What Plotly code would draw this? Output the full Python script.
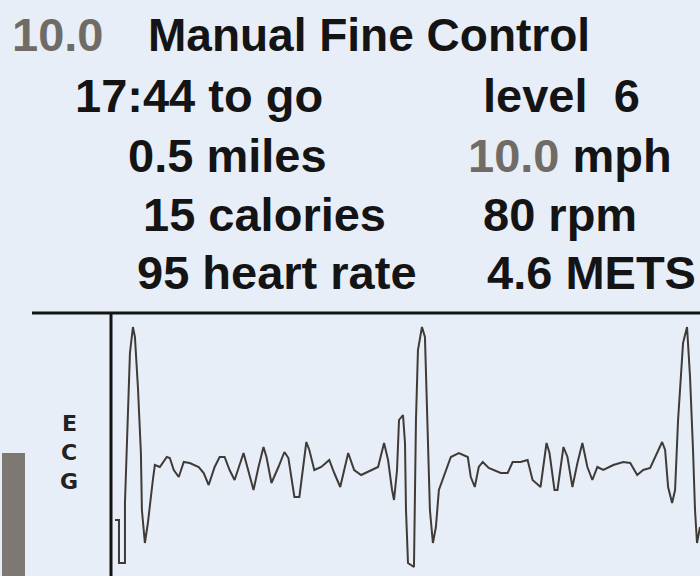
import plotly.graph_objects as go

# ECG trace: sample index and amplitude (mV)
ecg_sample = [3, 7, 7, 13, 13, 16, 18, 21, 23, 26, 29, 30, 33, 36, 38, 41, 43, 48, 55, 58,
              62, 67, 72, 78, 87, 92, 97, 103, 108, 113, 118, 123, 132, 137, 142, 147, 152, 155, 160, 167,
              173, 177, 183, 188, 191, 195, 198, 203, 210, 218, 223, 229, 237, 243, 250, 257, 267, 273, 277, 281,
              283, 286, 288, 292, 294, 295, 297, 303, 304, 305, 307, 311, 314, 317, 319, 322, 325, 328, 333, 340,
              348, 357, 360, 364, 368, 372, 378, 390, 397, 402, 410, 417, 422, 430, 436, 439, 444, 447, 453, 457,
              462, 467, 472, 477, 482, 487, 493, 503, 513, 520, 527, 533, 540, 547, 552, 555, 558, 562, 565, 568,
              573, 577, 580, 583, 585, 587, 590]
ecg_mv = [-0.60, -0.60, -1.03, -1.03, -0.43, 0.42, 1.07, 1.33, 1.23, 0.73, 0.07, -0.50, -0.83, -0.63, -0.43, -0.20, -0.05, -0.07, 0.03, 0.02,
          -0.10, -0.17, -0.02, -0.03, -0.07, -0.13, -0.25, -0.07, 0.03, 0.03, -0.10, -0.20, 0.07, -0.13, -0.30, -0.07, 0.13, 0.03, -0.23, -0.07,
          0.08, 0.02, -0.37, -0.37, -0.13, 0.18, 0.10, -0.10, -0.07, 0.00, -0.13, -0.27, 0.07, -0.10, -0.15, -0.12, -0.07, 0.17, 0.00, -0.30,
          -0.40, -0.10, 0.40, 0.45, 0.17, -0.50, -1.03, -1.07, -0.50, 0.40, 1.10, 1.33, 1.23, 0.10, -0.50, -0.83, -0.67, -0.30, -0.17, 0.03,
          0.07, 0.03, -0.17, -0.27, -0.07, -0.02, -0.08, -0.13, -0.13, -0.02, -0.02, 0.00, -0.20, -0.27, 0.17, 0.07, -0.30, -0.30, 0.13, 0.03,
          -0.27, -0.03, 0.17, -0.07, -0.20, -0.07, -0.10, -0.05, -0.02, -0.03, -0.15, -0.10, -0.08, 0.07, 0.18, 0.10, -0.27, -0.43, -0.30, 0.40,
          1.17, 1.33, 0.83, 0.10, -0.50, -0.83, -0.67]

# Display readouts
title_speed = "10.0"
title_text = "Manual Fine Control"
left_items = ["17:44 to go", "0.5 miles", "15 calories", "95 heart rate"]
right_items = ["level  6", "10.0 mph", "80 rpm", "4.6 METS"]
ecg_label = ["E", "C", "G"]

W, H = 700, 576
BG = "#e7eef8"
INK = "#141414"
GREY = "#716b66"
FONT = "Liberation Sans"


def px(x):
    return x / W


def py(y):
    return 1 - y / H


fig = go.Figure()
fig.add_trace(go.Scatter(x=ecg_sample, y=ecg_mv, mode="lines",
                         line=dict(color="#403b37", width=2), hoverinfo="skip",
                         showlegend=False))

annotations = []


def txt(s, x, y, size=47, color=INK, font=FONT):
    annotations.append(dict(text=s, x=px(x), y=py(y), xref="paper", yref="paper",
                            xanchor="left", yanchor="middle", showarrow=False,
                            font=dict(family=font, size=size, color=color, weight="bold")))


txt(title_speed, 10, 35, color=GREY)
txt(title_text, 146, 35, size=46)

left_x = [73, 126, 141, 135]
right_x = [481, 466, 481, 485]
row_y = [96, 156, 215, 273]
for s, x, y in zip(left_items, left_x, row_y):
    txt(s, x, y)
for s, x, y in zip(right_items, right_x, row_y):
    if s.startswith("10.0"):
        s = "<span style='color:%s'>10.0</span>%s" % (GREY, s[4:])
    txt(s, x, y)

for s, y in zip(ecg_label, [423, 452, 481]):
    annotations.append(dict(text=s, x=px(69), y=py(y), xref="paper", yref="paper",
                            xanchor="center", yanchor="middle", showarrow=False,
                            font=dict(family="DejaVu Sans", size=22,
                                      color="#222", weight="bold")))

shapes = [
    dict(type="rect", xref="paper", yref="paper", x0=px(2), x1=px(25), y0=py(576), y1=py(453),
         fillcolor="#7e7873", line=dict(width=0), layer="below"),
    dict(type="line", xref="paper", yref="paper", x0=px(32), x1=px(700), y0=py(313), y1=py(313),
         line=dict(color=INK, width=3)),
    dict(type="line", xref="paper", yref="paper", x0=px(111), x1=px(111), y0=py(313), y1=py(576),
         line=dict(color=INK, width=3)),
]

fig.update_layout(
    width=W, height=H, margin=dict(l=0, r=0, t=0, b=0),
    paper_bgcolor=BG, plot_bgcolor=BG,
    xaxis=dict(domain=[px(112), 1], range=[0, 590], visible=False, fixedrange=True),
    yaxis=dict(domain=[0, py(313)], range=[-1.16, 1.47], visible=False, fixedrange=True),
    annotations=annotations, shapes=shapes, showlegend=False,
)

fig.write_html("out.html", config={"displayModeBar": False},
               post_script="document.body.style.margin='0';document.body.style.padding='0';"
                           "document.body.style.overflow='hidden';"
                           "document.body.style.background='" + BG + "';")
